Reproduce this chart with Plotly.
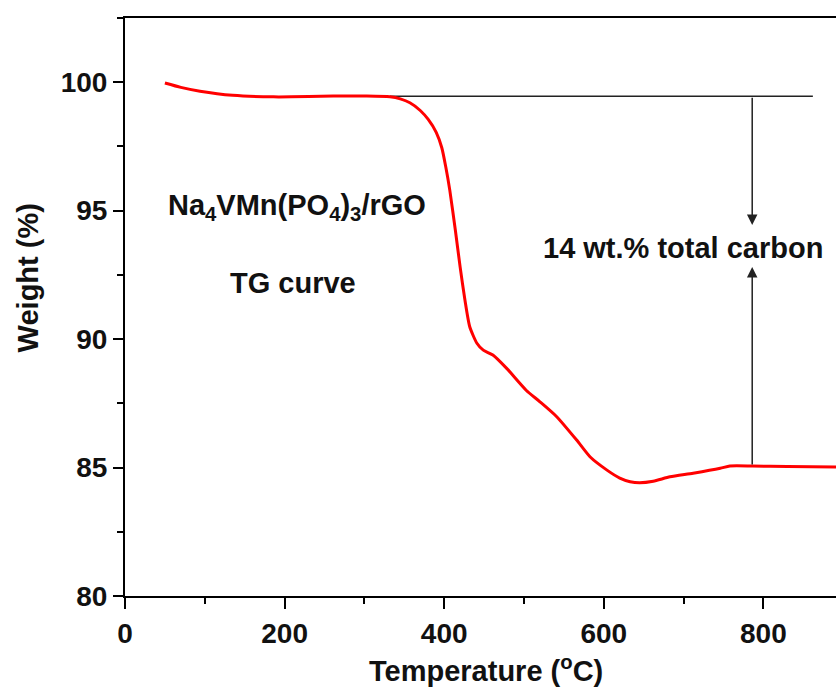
import plotly.graph_objects as go

# TG curve data (Temperature °C, Weight %)
temperature = [50, 70, 94, 135, 186, 230, 261, 303, 332, 345, 357, 370, 380, 390, 397,
               402, 407, 414, 420, 426, 432, 441, 449, 461, 478, 503, 520, 541, 566, 583,
               604, 620, 633, 645, 662, 683, 712, 746, 758, 786, 830, 891]
weight = [99.97, 99.8, 99.65, 99.49, 99.43, 99.44, 99.46, 99.46, 99.43, 99.35, 99.2,
          98.9, 98.55, 98.05, 97.45, 96.7, 95.8, 94.24, 92.8, 91.52, 90.48, 89.84, 89.57,
          89.38, 88.87, 88.0, 87.56, 86.98, 86.07, 85.41, 84.9, 84.59, 84.45, 84.41,
          84.47, 84.64, 84.78, 84.97, 85.06, 85.06, 85.04, 85.02]

# reference line and arrow annotation values
ref_line_x = [332, 862]
ref_line_y = [99.45, 99.45]
arrow_x = 786
arrow_top = 99.45
arrow_top_tip = 94.44
arrow_bottom = 85.06
arrow_bottom_tip = 92.81

x_ticks = [0, 200, 400, 600, 800]
y_ticks = [80, 85, 90, 95, 100]

FONT = "Liberation Sans"
INK = "#111111"

fig = go.Figure()
fig.add_trace(go.Scatter(x=ref_line_x, y=ref_line_y, mode="lines",
                         line=dict(color="#222222", width=1.5), hoverinfo="skip"))
fig.add_trace(go.Scatter(x=temperature, y=weight, mode="lines",
                         line=dict(color="#ff0000", width=3, shape="spline", smoothing=0.6)))

ann = []
ann.append(dict(x=arrow_x, y=arrow_top_tip, ax=arrow_x, ay=arrow_top, xref="x", yref="y",
                axref="x", ayref="y", text="", showarrow=True, arrowhead=2, arrowsize=1.4,
                arrowwidth=1.5, arrowcolor="#222222"))
ann.append(dict(x=arrow_x, y=arrow_bottom_tip, ax=arrow_x, ay=arrow_bottom, xref="x", yref="y",
                axref="x", ayref="y", text="", showarrow=True, arrowhead=2, arrowsize=1.4,
                arrowwidth=1.5, arrowcolor="#222222"))
ann.append(dict(x=699, y=93.54, xref="x", yref="y", text="14 wt.% total carbon",
                showarrow=False, font=dict(family=FONT, size=29, color=INK, weight="bold")))
ann.append(dict(x=215, y=95.14, xref="x", yref="y",
                text="Na<sub>4</sub>VMn(PO<sub>4</sub>)<sub>3</sub>/rGO",
                showarrow=False, font=dict(family=FONT, size=29, color=INK, weight="bold")))
ann.append(dict(x=210, y=92.2, xref="x", yref="y", text="TG curve",
                showarrow=False, font=dict(family=FONT, size=29, color=INK, weight="bold")))
ann.append(dict(x=-0.136, y=0.55, xref="paper", yref="paper", text="Weight (%)",
                textangle=-90, showarrow=False, xanchor="center", yanchor="middle",
                font=dict(family=FONT, size=29, color=INK, weight="bold")))
ann.append(dict(x=0.508, y=-0.127, xref="paper", yref="paper", text="Temperature (<sup>o</sup>C)",
                showarrow=False, xanchor="center", yanchor="middle",
                font=dict(family=FONT, size=29, color=INK, weight="bold")))

fig.update_layout(
    width=836, height=691,
    margin=dict(l=125, r=0, t=18, b=95),
    paper_bgcolor="white", plot_bgcolor="white",
    showlegend=False,
    annotations=ann,
    xaxis=dict(range=[0, 891], tickvals=x_ticks, ticktext=[str(v) for v in x_ticks],
               showgrid=False, zeroline=False, showline=True, linecolor="black",
               linewidth=2, mirror=True, ticks="outside", ticklen=11, tickwidth=2,
               tickcolor="black",
               minor=dict(dtick=100, ticks="outside", ticklen=6, tickwidth=2, tickcolor="black",
                          showgrid=False),
               tickfont=dict(family=FONT, size=28, color=INK, weight="bold")),
    yaxis=dict(range=[80, 102.5], tickvals=y_ticks, ticktext=[str(v) for v in y_ticks],
               showgrid=False, zeroline=False, showline=True, linecolor="black",
               linewidth=2, ticks="outside", ticklen=10, tickwidth=2, tickcolor="black",
               minor=dict(dtick=2.5, ticks="outside", ticklen=6, tickwidth=2, tickcolor="black",
                          showgrid=False),
               tickfont=dict(family=FONT, size=28, color=INK, weight="bold")),
)

fig.write_html("out.html")
